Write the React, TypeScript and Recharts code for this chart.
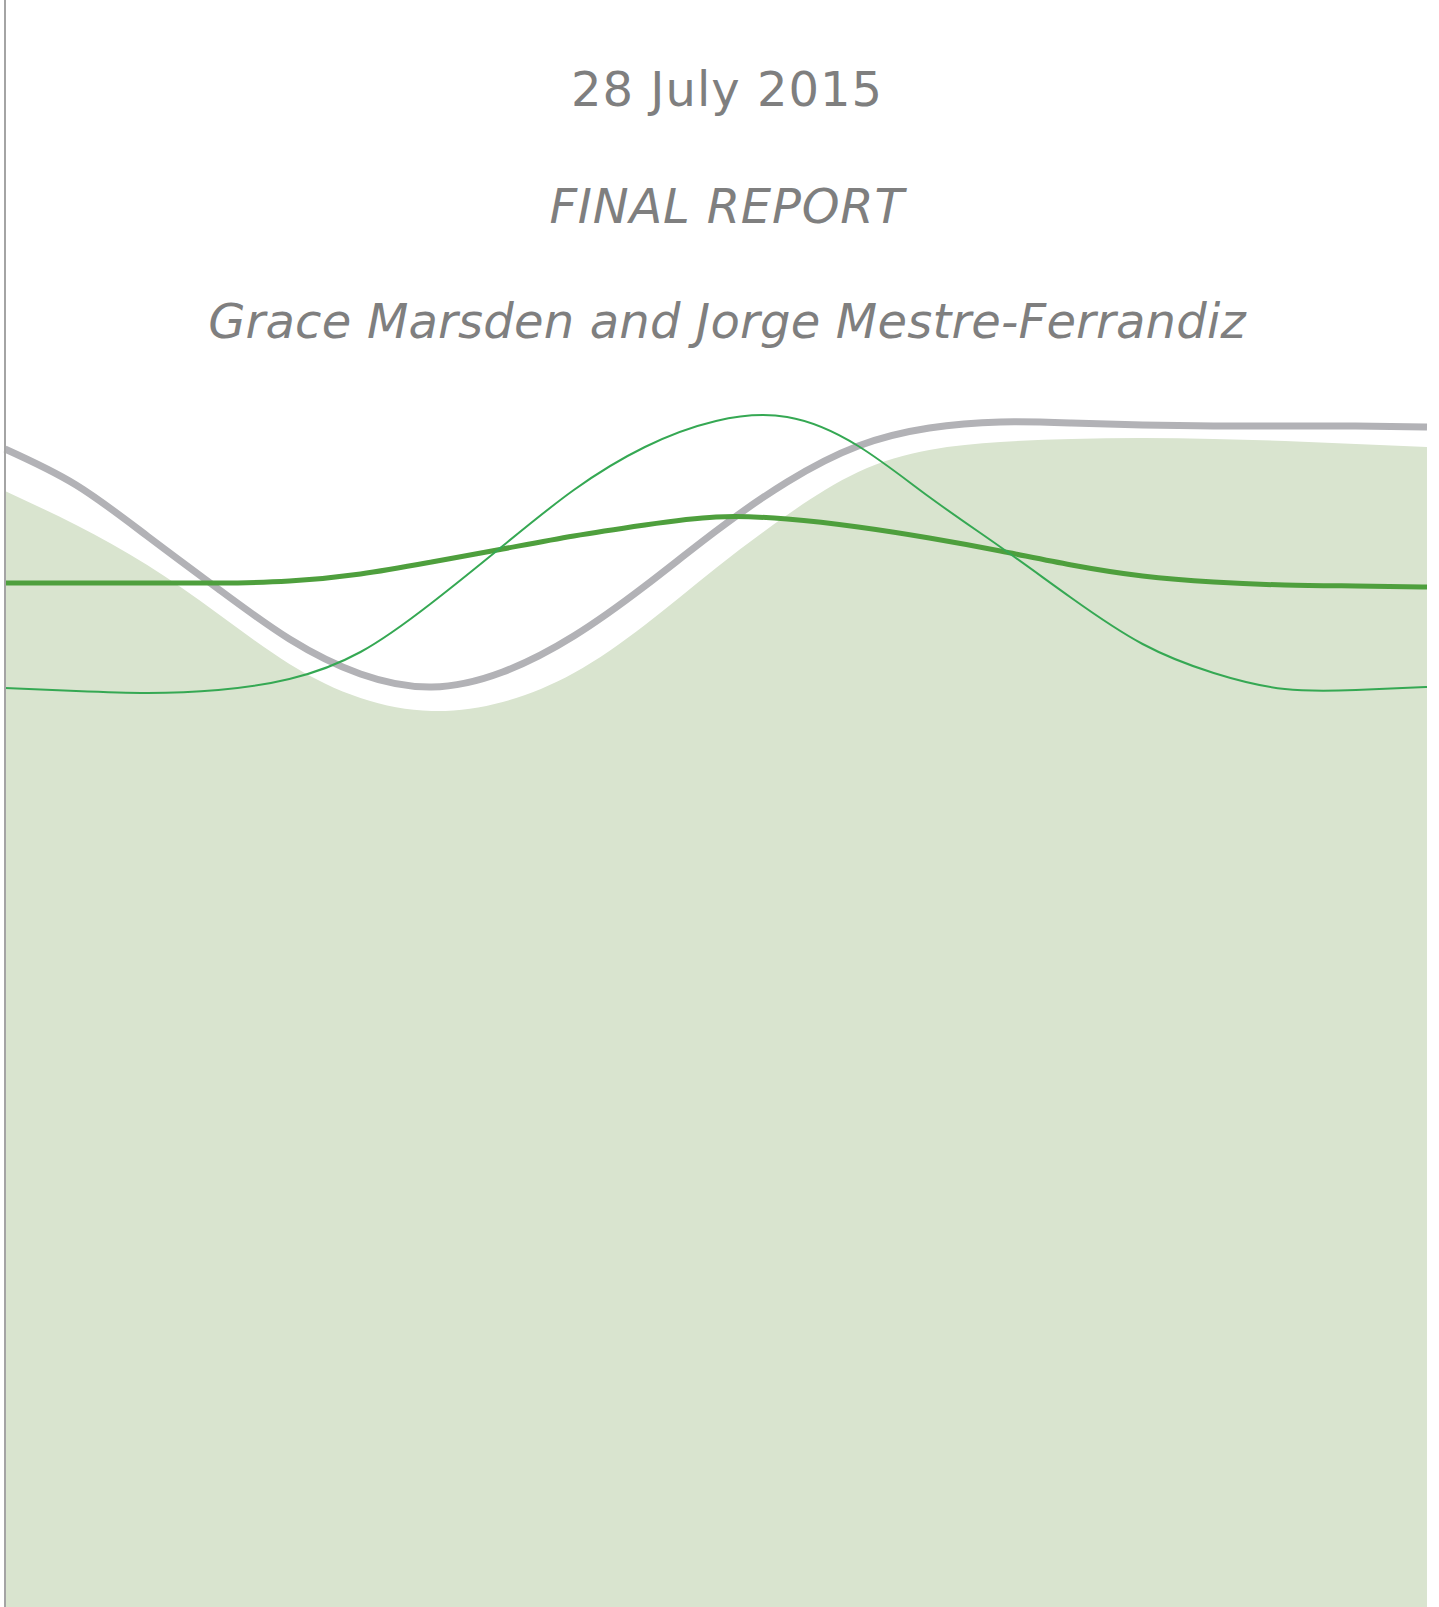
import { ComposedChart, Area, Line, XAxis, YAxis } from 'recharts';

// stations across the page, 0 = left edge of the drawing, 100 = right edge
const stations = [0, 5, 10, 15, 20, 25, 30, 35, 40, 45, 50, 55, 60, 65, 70, 75, 80, 85, 90, 95, 100];

// heights above the foot of the page
const greyBand = [1158, 1122, 1071, 1018, 968, 933, 920, 935, 971, 1021, 1076, 1125, 1161, 1179, 1185, 1184, 1182, 1181, 1181, 1181, 1180];
const paleField = [1116, 1082, 1042, 993, 943, 909, 896, 905, 934, 982, 1039, 1092, 1135, 1157, 1165, 1168, 1169, 1168, 1166, 1163, 1160];
const broadGreen = [1024, 1024, 1024, 1024, 1026, 1033, 1045, 1058, 1071, 1082, 1090, 1088, 1080, 1069, 1056, 1042, 1031, 1025, 1022, 1021, 1020];
const fineGreen = [919, 916, 914, 917, 928, 955, 1004, 1061, 1117, 1160, 1186, 1190, 1161, 1110, 1060, 1009, 963, 934, 918, 917, 920];

const titleLines = ['28 July 2015', 'FINAL REPORT', 'Grace Marsden and Jorge Mestre-Ferrandiz'];

const data = stations.map((t, i) => ({
  t,
  grey: greyBand[i],
  field: paleField[i],
  broad: broadGreen[i],
  fine: fineGreen[i],
}));

const textStyle = {
  position: 'absolute' as const,
  left: 727,
  transform: 'translateX(-50%)',
  whiteSpace: 'nowrap' as const,
  fontFamily: '"DejaVu Sans", Verdana, sans-serif',
  fontSize: 48,
  lineHeight: '48px',
  color: '#7f7f7f',
};

export default function App() {
  return (
    <div style={{ position: 'absolute', left: 0, top: 0, width: 1439, height: 1607, background: '#fff', overflow: 'hidden' }}>
      <ComposedChart width={1439} height={1607} data={data} margin={{ top: 0, right: 12, bottom: 0, left: 0 }}>
        <XAxis type="number" dataKey="t" domain={[0, 100]} hide />
        <YAxis
          type="number"
          domain={[0, 1607]}
          width={5}
          tick={false}
          tickLine={false}
          axisLine={{ stroke: '#a4a4a4', strokeWidth: 2 }}
        />
        <Area type="natural" dataKey="field" stroke="none" fill="#d9e4cf" fillOpacity={1} isAnimationActive={false} />
        <Line type="natural" dataKey="grey" stroke="#b2b2b6" strokeWidth={7} dot={false} isAnimationActive={false} />
        <Line type="natural" dataKey="broad" stroke="#4e9f3d" strokeWidth={5} dot={false} isAnimationActive={false} />
        <Line type="natural" dataKey="fine" stroke="#35a853" strokeWidth={2} dot={false} isAnimationActive={false} />
      </ComposedChart>
      <div style={{ ...textStyle, top: 65, letterSpacing: 1 }}>{titleLines[0]}</div>
      <div style={{ ...textStyle, top: 182, fontStyle: 'italic', letterSpacing: 0.8 }}>{titleLines[1]}</div>
      <div style={{ ...textStyle, top: 297, fontStyle: 'italic', letterSpacing: 0.2 }}>{titleLines[2]}</div>
    </div>
  );
}
